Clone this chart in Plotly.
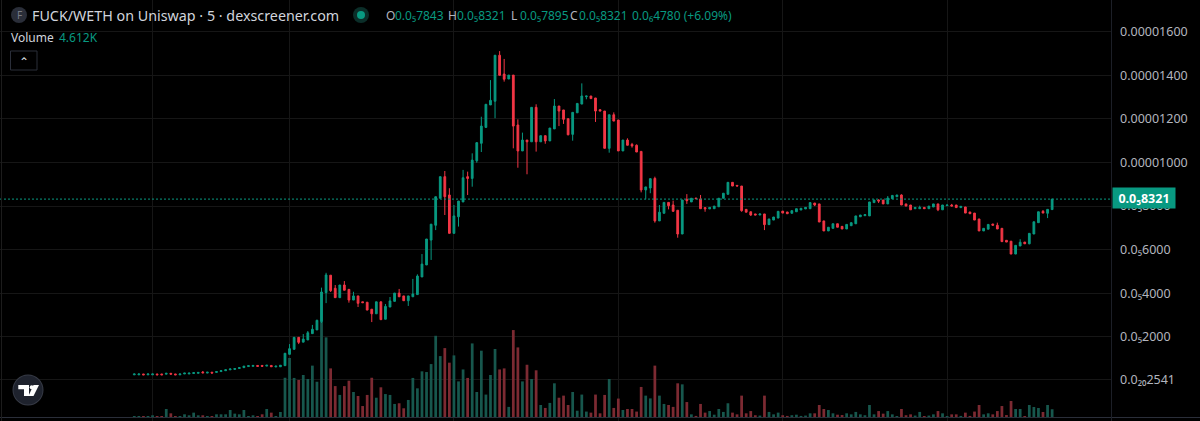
import plotly.graph_objects as go

W, H = 1200, 421

# prices in units of 1e-6, volume in K, one entry per 5 min candle
opens = [
    .26, .26, .30, .26, .26, .30, .30, .29, .33, .30,
    .26, .30, .30, .32, .33, .39, .34, .38, .37, .41,
    .45, .49, .51, .55, .59, .64, .65, .69, .69, .66,
    .69, .62, .63, .68, 1.20, 1.43, 1.98, 1.76, 1.86, 2.15,
    2.32, 2.70, 4.03, 4.83, 4.23, 3.80, 4.38, 4.18, 3.69, 3.88,
    3.61, 3.59, 3.27, 3.06, 3.61, 2.81, 3.37, 3.63, 4.01, 3.88,
    3.66, 3.84, 3.94, 4.75, 5.30, 6.44, 7.12, 8.36, 9.35, 8.51,
    6.75, 7.51, 8.19, 9.35, 9.27, 10.08, 10.88, 11.61, 12.64, 12.81,
    14.92, 14.06, 13.83, 14.01, 11.72, 10.53, 11.03, 10.95, 12.53, 10.95,
    11.23, 10.99, 11.54, 12.59, 12.41, 12.01, 11.29, 12.28, 12.68, 13.02,
    13.05, 12.96, 12.42, 12.36, 10.65, 12.19, 11.95, 10.53, 11.03, 10.83,
    10.79, 10.51, 8.74, 8.83, 9.27, 7.32, 7.67, 8.17, 8.05, 7.81,
    6.72, 8.31, 8.19, 8.37, 8.33, 7.93, 7.87, 7.88, 7.97, 8.36,
    8.54, 9.09, 8.95, 8.92, 7.85, 7.74, 7.64, 7.59, 7.64, 7.15,
    7.36, 7.45, 7.77, 7.73, 7.67, 7.74, 7.82, 7.87, 7.88, 8.14,
    8.10, 7.32, 6.86, 6.98, 7.19, 7.07, 6.95, 7.10, 7.19, 7.51,
    7.56, 7.55, 8.16, 8.28, 8.28, 8.10, 8.34, 8.43, 8.51, 8.10,
    8.05, 7.88, 7.88, 7.94, 7.88, 7.96, 8.10, 7.83, 8.02, 8.05,
    8.05, 7.93, 7.96, 7.73, 7.68, 7.41, 6.86, 6.94, 7.18, 7.12,
    6.98, 6.43, 6.39, 5.80, 6.17, 6.35, 6.27, 6.72, 7.24, 7.76,
    7.67, 7.84,
]
closes = [
    .30, .30, .26, .30, .30, .26, .26, .33, .29, .26,
    .30, .34, .34, .36, .37, .35, .38, .34, .41, .45,
    .49, .53, .55, .59, .66, .68, .69, .65, .65, .70,
    .63, .66, .70, 1.25, 1.46, 1.98, 1.75, 1.90, 2.19, 2.35,
    2.76, 4.06, 4.84, 4.12, 3.80, 4.38, 4.14, 3.69, 3.88, 3.54,
    3.57, 3.23, 3.06, 3.61, 2.79, 3.40, 3.65, 4.01, 3.84, 3.66,
    3.88, 3.97, 4.79, 5.34, 6.49, 7.17, 8.43, 9.35, 8.43, 6.75,
    7.55, 8.23, 9.30, 9.27, 10.11, 10.91, 11.67, 12.67, 12.85, 14.92,
    14.00, 13.82, 14.01, 11.67, 10.53, 11.03, 10.95, 12.53, 10.95, 11.23,
    10.99, 11.58, 12.59, 12.36, 11.98, 11.27, 12.30, 12.71, 13.05, 13.05,
    12.93, 12.36, 12.36, 10.65, 12.19, 11.90, 10.53, 11.03, 10.79, 10.76,
    10.48, 8.74, 8.88, 9.26, 7.32, 7.72, 8.17, 8.02, 7.76, 6.72,
    8.28, 8.25, 8.36, 8.34, 7.88, 7.87, 7.94, 8.00, 8.36, 8.59,
    9.09, 8.92, 8.92, 7.79, 7.72, 7.59, 7.59, 7.64, 7.15, 7.41,
    7.50, 7.76, 7.68, 7.65, 7.79, 7.88, 7.90, 7.94, 8.16, 8.05,
    7.27, 6.86, 7.03, 7.19, 7.03, 6.95, 7.16, 7.24, 7.55, 7.59,
    7.61, 8.19, 8.28, 8.23, 8.10, 8.37, 8.49, 8.51, 8.05, 8.00,
    7.83, 7.94, 7.94, 7.88, 8.00, 8.10, 7.83, 8.05, 8.05, 8.00,
    7.93, 7.99, 7.68, 7.65, 7.36, 6.86, 6.98, 7.16, 7.12, 6.95,
    6.37, 6.35, 5.80, 6.20, 6.34, 6.27, 6.75, 7.28, 7.74, 7.68,
    7.85, 8.32,
]
highs = [
    .30, .30, .30, .30, .30, .30, .30, .33, .33, .30,
    .30, .34, .34, .36, .37, .43, .38, .38, .41, .45,
    .49, .53, .55, .59, .66, .68, .69, .69, .69, .70,
    .69, .66, .70, 1.25, 1.67, 1.98, 1.98, 2.13, 2.27, 2.55,
    2.79, 4.26, 4.94, 4.83, 4.38, 4.38, 4.56, 4.18, 4.07, 3.88,
    3.61, 3.59, 3.27, 3.61, 3.61, 3.51, 3.83, 4.01, 4.20, 3.88,
    3.88, 4.66, 4.87, 5.80, 6.49, 7.17, 8.43, 9.35, 9.61, 8.82,
    8.05, 8.23, 9.66, 9.58, 10.42, 10.94, 12.10, 12.67, 13.78, 14.92,
    15.11, 14.75, 14.01, 14.01, 11.98, 11.37, 11.03, 12.53, 12.67, 11.23,
    11.23, 11.58, 12.91, 12.59, 12.41, 12.01, 12.30, 12.71, 13.63, 13.05,
    13.05, 12.96, 12.45, 12.36, 12.19, 12.30, 11.95, 11.03, 11.11, 10.90,
    10.83, 10.51, 8.88, 9.26, 9.35, 8.05, 8.17, 8.17, 8.25, 7.81,
    8.28, 8.55, 8.36, 8.37, 8.51, 7.93, 7.94, 8.00, 8.36, 8.59,
    9.09, 9.09, 8.95, 8.92, 7.85, 7.74, 7.64, 7.64, 7.64, 7.41,
    7.50, 7.76, 7.77, 7.73, 7.79, 7.88, 7.90, 7.94, 8.16, 8.14,
    8.10, 7.32, 7.03, 7.19, 7.19, 7.07, 7.16, 7.24, 7.55, 7.59,
    7.61, 8.19, 8.28, 8.31, 8.28, 8.46, 8.49, 8.51, 8.54, 8.10,
    8.05, 7.94, 8.02, 7.94, 8.00, 8.10, 8.10, 8.05, 8.05, 8.10,
    8.05, 7.99, 7.96, 7.73, 7.68, 7.41, 6.98, 7.16, 7.18, 7.24,
    6.98, 6.43, 6.39, 6.20, 6.48, 6.35, 6.75, 7.28, 7.74, 7.82,
    7.85, 8.32,
]
lows = [
    .26, .26, .26, .26, .26, .26, .26, .29, .29, .26,
    .26, .30, .30, .32, .33, .35, .34, .34, .37, .41,
    .45, .49, .51, .55, .59, .64, .65, .65, .65, .66,
    .63, .62, .63, .68, 1.20, 1.43, 1.67, 1.76, 1.86, 2.15,
    2.32, 2.64, 3.55, 4.06, 3.80, 3.80, 4.14, 3.57, 3.69, 3.37,
    3.57, 3.23, 2.68, 3.06, 2.79, 2.81, 3.37, 3.63, 3.84, 3.66,
    3.42, 3.84, 3.94, 4.75, 5.30, 5.53, 6.90, 8.36, 7.59, 6.75,
    6.75, 7.06, 8.19, 8.51, 8.89, 9.99, 10.48, 11.61, 12.64, 12.03,
    14.00, 13.71, 13.83, 10.65, 9.76, 10.53, 9.46, 10.95, 10.50, 10.95,
    10.86, 10.99, 11.54, 11.67, 11.77, 11.25, 11.00, 12.28, 12.68, 12.90,
    12.93, 11.86, 12.36, 10.65, 10.45, 11.90, 10.53, 10.53, 10.79, 10.68,
    10.48, 8.63, 8.31, 8.59, 7.24, 7.32, 7.67, 7.85, 7.76, 6.55,
    6.72, 8.10, 8.19, 8.34, 7.88, 7.74, 7.87, 7.88, 7.97, 8.36,
    8.54, 8.92, 8.92, 7.74, 7.72, 7.55, 7.59, 7.59, 6.90, 7.15,
    7.36, 7.45, 7.68, 7.65, 7.67, 7.74, 7.82, 7.87, 7.88, 8.00,
    7.27, 6.86, 6.86, 6.98, 7.03, 6.95, 6.95, 7.10, 7.19, 7.51,
    7.56, 7.55, 8.16, 8.14, 8.10, 8.10, 8.34, 8.43, 8.05, 8.00,
    7.83, 7.88, 7.88, 7.88, 7.88, 7.96, 7.77, 7.83, 8.02, 8.00,
    7.93, 7.93, 7.68, 7.65, 7.36, 6.86, 6.86, 6.94, 7.12, 6.95,
    6.37, 6.35, 5.80, 5.80, 6.17, 6.27, 6.25, 6.72, 7.24, 7.68,
    7.45, 7.84,
]
volumes = [
    .58, .38, .58, .38, 1.15, .58, .58, 4.8, 2.3, .77,
    .58, 1.73, 1.15, 2.69, 1.15, 1.15, .58, .77, 1.73, 1.73,
    1.73, 4.22, 2.11, 1.73, 4.22, .58, 1.15, .58, 1.73, 4.8,
    2.69, .58, 3.07, 22.8, 34.2, 22.7, 21.5, 24.4, 22.1, 29.8,
    20.5, 55.1, 46.1, 28.2, 18.0, 12.9, 18.0, 21.1, 14.6, 12.3,
    6.5, 12.9, 22.8, 11.3, 17.3, 13.4, 12.9, 7.7, 8.1, 5.2,
    10.0, 22.7, 16.7, 26.5, 26.1, 30.7, 47.0, 35.3, 39.9, 31.5,
    35.7, 20.7, 27.6, 22.7, 42.6, 14.6, 38.4, 13.1, 24.4, 39.4,
    27.6, 28.2, 6.0, 50.3, 40.3, 20.7, 30.3, 22.1, 27.1, 7.1,
    5.4, 8.3, 19.6, 11.3, 12.5, 7.1, 14.6, 3.8, 13.1, 3.3,
    2.7, 13.1, 2.3, 12.9, 22.1, 5.4, 10.8, 4.2, 4.8, 4.8,
    3.3, 17.5, 12.5, 10.9, 29.8, 12.5, 7.7, 7.1, 6.0, 19.6,
    19.0, 8.8, 1.7, .8, 7.7, 2.7, 3.6, 1.5, 4.8, 3.1,
    8.1, 2.7, 1.7, 12.5, 2.3, 3.6, 1.2, 1.0, 12.5, 3.1,
    1.7, 2.7, 1.2, .8, 1.2, 1.5, .8, 1.0, 2.3, 2.3,
    7.1, 4.8, 4.2, 2.3, 1.5, 1.3, 2.3, 1.7, 3.1, 1.7,
    1.2, 7.1, 1.7, 3.6, 2.1, 3.6, 1.7, .6, 4.8, 1.2,
    1.7, 1.0, 3.1, .6, 1.0, 1.7, 3.6, 2.3, .6, 1.7,
    1.7, .8, 2.7, .8, 3.3, 7.1, 1.7, 2.3, 1.7, 3.6,
    6.5, 1.3, 9.4, 4.8, 4.8, .8, 7.1, 6.0, 5.4, 3.1,
    7.1, 4.612,
]

price_ticks = [16, 14, 12, 10, 8, 6, 4, 2, 0.02541]
price_labels = ['0.00001600', '0.00001400', '0.00001200', '0.00001000', '0.0₅8000',
                '0.0₅6000', '0.0₅4000', '0.0₅2000', '0.0₂₀2541']
grid_candles = [4, 34, 70, 106, 142, 178]
last_price = 8.321

UP = '#089981'
DOWN = '#F23645'
UP_VOL = '#17574d'
DOWN_VOL = '#7c2a32'
GRID = '#161616'
TEXT = '#b2b5be'
FONT = 'Noto Sans'

candles = list(range(len(opens)))
vol_colors = [UP_VOL if c >= o else DOWN_VOL for o, c in zip(opens, closes)]

# pixel helpers for the page furniture (header, buttons, logo)
def px(x):
    return x / W

def py(y):
    return 1 - y / H

fig = go.Figure()

fig.add_trace(go.Bar(x=candles, y=volumes, marker=dict(color=vol_colors, line_width=0),
                     yaxis='y', xaxis='x', showlegend=False))
fig.add_trace(go.Candlestick(
    x=candles, open=opens, high=highs, low=lows, close=closes,
    increasing=dict(line=dict(color=UP, width=1), fillcolor=UP),
    decreasing=dict(line=dict(color=DOWN, width=1), fillcolor=DOWN),
    whiskerwidth=0, yaxis='y2', xaxis='x', showlegend=False,
))

# dotted last price line
fig.add_shape(type='line', xref='x domain', x0=0, x1=1, yref='y2', y0=last_price, y1=last_price,
              line=dict(color=UP, width=1, dash='2px,2px'))

def add_text(x, y, text, color=TEXT, size=12, **kw):
    fig.add_annotation(xref='paper', yref='paper', x=px(x), y=py(y), text=text, showarrow=False,
                       xanchor=kw.pop('xanchor', 'left'), yanchor='middle',
                       font=dict(family=FONT, color=color, size=size), borderpad=0, **kw)

def add_circle(x, y, r, fill):
    fig.add_shape(type='circle', xref='paper', yref='paper', x0=px(x - r), x1=px(x + r),
                  y0=py(y + r), y1=py(y - r), fillcolor=fill, line_width=0, layer='above')

def add_path(points, fill):
    d = 'M ' + ' L '.join(f'{px(a):.5f},{py(b):.5f}' for a, b in points) + ' Z'
    fig.add_shape(type='path', xref='paper', yref='paper', path=d, fillcolor=fill,
                  line_width=0, layer='above')

# frame lines
fig.add_shape(type='line', xref='paper', yref='paper', x0=px(0), x1=px(1200), y0=py(417.5), y1=py(417.5),
              line=dict(color='#2a2e39', width=1))
fig.add_shape(type='line', xref='paper', yref='paper', x0=px(1111.5), x1=px(1111.5), y0=py(0), y1=py(421),
              line=dict(color='#1c1f27', width=1))
fig.add_shape(type='line', xref='paper', yref='paper', x0=px(1.5), x1=px(1.5), y0=py(0), y1=py(421),
              line=dict(color='#1c1c1c', width=1))

# header
add_circle(19, 15, 8, '#2a2e39')
add_text(16, 15, 'F', '#787b86', 10)
add_text(31, 15, 'FUCK/WETH on Uniswap · 5 · dexscreener.com', '#d1d4dc', 14.3)
add_circle(361, 15, 8, '#0b2e29')
add_circle(361, 15, 4, UP)
for x, label, value in [(385, 'O', '0.0₅7843'), (447, 'H', '0.0₅8321'),
                        (510, 'L', '0.0₅7895'), (569, 'C', '0.0₅8321')]:
    add_text(x, 15, label, TEXT, 12)
    add_text(x + 9, 15, value, UP, 12)
add_text(631, 15, '0.0₆4780 (+6.09%)', UP, 12)
add_text(10, 38, 'Volume', '#d1d4dc', 12)
add_text(58, 38, '4.612K', UP, 12)

# collapse button
fig.add_shape(type='rect', xref='paper', yref='paper', x0=px(10.5), x1=px(37), y0=py(70), y1=py(51),
              line=dict(color='#2a2e39', width=1), fillcolor='#000000', layer='above')
add_text(24, 61, '⌃', '#d1d4dc', 12, xanchor='center')

# price tag
fig.add_annotation(xref='paper', yref='y2', x=px(1112), y=last_price, yshift=1, text='<b>0.0₅8321</b>', showarrow=False,
                   xanchor='left', yanchor='middle', width=60, height=18, align='center', bgcolor=UP,
                   font=dict(family=FONT, color='#ffffff', size=12.5))

# chart brand badge
add_circle(28, 390, 15.5, '#363a45')
add_circle(28, 390, 14.5, '#1e222d')
add_path([(18.3, 385), (29, 385), (29, 396), (24, 396), (24, 389.3), (18.3, 389.3)], '#ffffff')
add_circle(31.7, 387.2, 2, '#ffffff')
add_path([(33.5, 385), (39, 385), (33.5, 396), (28.5, 396)], '#ffffff')

fig.update_layout(
    width=W, height=H,
    margin=dict(l=0, r=0, t=0, b=0),
    paper_bgcolor='#000000',
    plot_bgcolor='#000000',
    bargap=0.4,
    boxgap=0.45,
    xaxis=dict(
        domain=[0, 1111.5 / W],
        range=[-29.41, 214.0],
        tickmode='array', tickvals=grid_candles, showticklabels=False, ticks='',
        showgrid=True, gridcolor=GRID, gridwidth=1, zeroline=False,
        rangeslider=dict(visible=False),
    ),
    # volume pane shares the whole height, base sits on the bottom frame line
    yaxis=dict(range=[-2.13, 240.6], visible=False, showgrid=False, zeroline=False),
    yaxis2=dict(
        range=[-1.858, 17.454], overlaying='y', side='right', anchor='x',
        tickmode='array', tickvals=price_ticks, ticktext=price_labels,
        tickfont=dict(family=FONT, color=TEXT, size=12.5),
        ticks='outside', ticklen=5, tickcolor='rgba(0,0,0,0)',
        showgrid=True, gridcolor=GRID, gridwidth=1, zeroline=False,
    ),
    showlegend=False,
)

# page default margin would push the chart 8px in
fig.write_html("out.html", config=dict(displayModeBar=False),
               post_script="document.body.style.margin='0';document.body.style.background='#000';")
